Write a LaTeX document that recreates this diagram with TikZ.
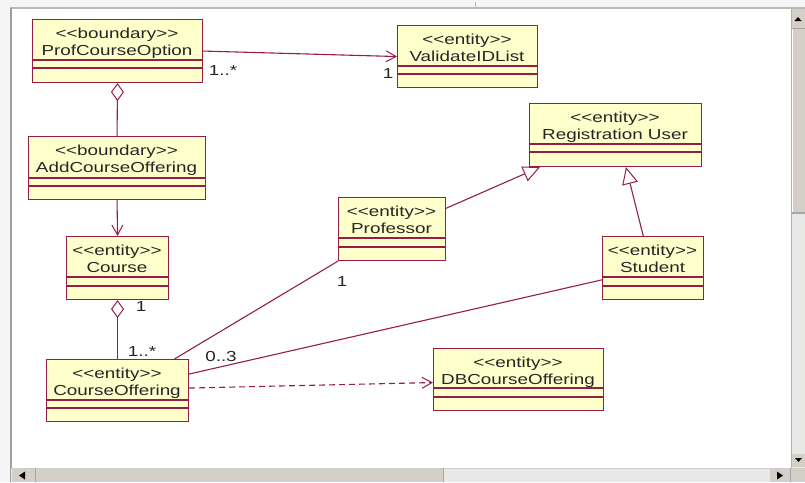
\documentclass[tikz,border=0pt]{standalone}
\usepackage{fontspec}
\newfontfamily\umlfont{Liberation Sans}[FakeStretch=1.3,Ligatures=TeXOff]
\usetikzlibrary{arrows.meta,calc}
\definecolor{umlfill}{RGB}{255,255,204}
\definecolor{umlred}{RGB}{150,30,70}
\definecolor{winbg}{RGB}{212,208,200}
\definecolor{trackc}{RGB}{232,232,230}
\tikzset{
  classbox/.style={draw=umlred, fill=umlfill, line width=1.1pt, inner sep=0pt, rectangle},
  divline/.style={draw=umlred, line width=1.1pt},
  umltext/.style={inner sep=0pt, font=\umlfont\fontsize{14.5}{17}\selectfont, text=black!85},
  assoc/.style={draw=umlred, line width=1.1pt},
  navarrow/.style={assoc, -{Straight Barb[length=10pt,width=11pt,line width=1pt]}},
  aggr/.style={assoc, {Diamond[open,length=18pt,width=13pt,line width=1pt]}-},
  gener/.style={assoc, -{Triangle[open,length=17pt,width=16pt,line width=1pt]}},
  depend/.style={navarrow, dash pattern=on 6pt off 4pt},
  mult/.style={umltext, anchor=center},
  winline/.style={draw=gray!70, line width=1pt},
}
\newcommand\umlclass[9]{%
  \node[classbox, anchor=north west, minimum width={(#4-#2)*1pt}, minimum height={(#5-#3)*1pt}] (#1) at (#2,#3) {};
  \draw[divline] (#2,#6) -- (#4,#6) (#2,#7) -- (#4,#7);
  \node[umltext, anchor=base] (#1-s) at ({(#2+#4)/2},{#3+19}) {#8};
  \node[umltext, anchor=base] (#1-n) at ({(#2+#4)/2},{#3+36}) {#9};
}
\begin{document}
\begin{tikzpicture}[x=1pt,y=-1pt]
\useasboundingbox (0,0) rectangle (805,482);
% window frame
\fill[white] (0,0) rectangle (805,482);
\fill[gray!8] (0,0) rectangle (805,8);
\fill[gray!8] (0,0) rectangle (10,482);
\draw[draw=gray!55, line width=2pt] (10,8) -- (805,8);
\draw[draw=gray!75, line width=2pt] (10.5,8) -- (10.5,482);
\draw[draw=gray!55, line width=1pt] (475,2) -- (475,7);
% vertical scrollbar
\fill[trackc] (791,9) rectangle (805,468);
\fill[winbg] (791,9) rectangle (805,28);
\fill[black] (794.5,21) -- (801.5,21) -- (798,17) -- cycle;
\draw[winline] (791,28) -- (805,28);
\fill[winbg] (791,29) rectangle (805,213);
\draw[draw=white, line width=1pt] (792,29) -- (792,212);
\draw[draw=gray!70, line width=1.5pt] (791,213) -- (805,213);
\draw[draw=gray!60, line width=1pt] (791,9) -- (791,468);
\fill[winbg] (792,454) rectangle (805,467);
\fill[black] (795,458) -- (802,458) -- (798.5,462) -- cycle;
% horizontal scrollbar
\fill[trackc] (11,468) rectangle (791,482);
\draw[draw=gray!40, line width=1pt] (11,468) -- (791,468);
\fill[winbg] (12,469) rectangle (35,482);
\fill[black] (19,475.5) -- (25,471.5) -- (25,479.5) -- cycle;
\draw[winline] (35.5,468) -- (35.5,482);
\fill[winbg] (36,469) rectangle (443,482);
\draw[winline] (443.5,468) -- (443.5,482);
\fill[winbg] (770,469) rectangle (790,482);
\fill[black] (783,475.5) -- (777,471.5) -- (777,479.5) -- cycle;
\fill[winbg] (791,468) rectangle (805,482);
\draw[winline] (790.5,468) -- (790.5,482);

% classes
\umlclass{pco}{32}{19}{202}{82}{60}{68}{<<boundary>>}{ProfCourseOption}
\umlclass{aco}{28}{136}{205}{199}{178}{186}{<<boundary>>}{AddCourseOffering}
\umlclass{vidl}{397}{25}{537}{87}{66}{74}{<<entity>>}{ValidateIDList}
\umlclass{ru}{529}{103}{701}{166}{144}{152}{<<entity>>}{Registration User}
\umlclass{prof}{338}{197}{445}{260}{238}{247}{<<entity>>}{Professor}
\umlclass{stud}{602}{236}{703}{299}{277}{286}{<<entity>>}{Student}
\umlclass{course}{66}{236}{168}{299}{277}{286}{<<entity>>}{Course}
\umlclass{co}{46}{359}{188}{421}{400}{408}{<<entity>>}{CourseOffering}
\umlclass{dbco}{433}{348}{603}{410}{388}{397}{<<entity>>}{DBCourseOffering}

% connectors
\draw[navarrow] (pco.east) -- (vidl.west);
\node[mult] (m1) at (223,71) {1..*};
\node[mult] (m2) at (388,74) {1};
\draw[aggr] (pco.south) -- (aco.north);
\draw[navarrow] (aco.south) -- (course.north);
\draw[aggr] (course.south) -- (co.north);
\node[mult] (m3) at (141,307) {1};
\node[mult] (m4) at (142,352) {1..*};
\draw[assoc] (prof.south west) -- (co.29);
\node[mult] (m5) at (342,282) {1};
\draw[assoc] (stud.193) -- (co.13);
\node[mult] (m6) at (221,357) {0..3};
\draw[depend] (co.2) -- (dbco.182);
\draw[gener] (prof.21) -- (ru.203);
\draw[gener] (stud.107) -- (ru.-72);
\end{tikzpicture}
\end{document}
